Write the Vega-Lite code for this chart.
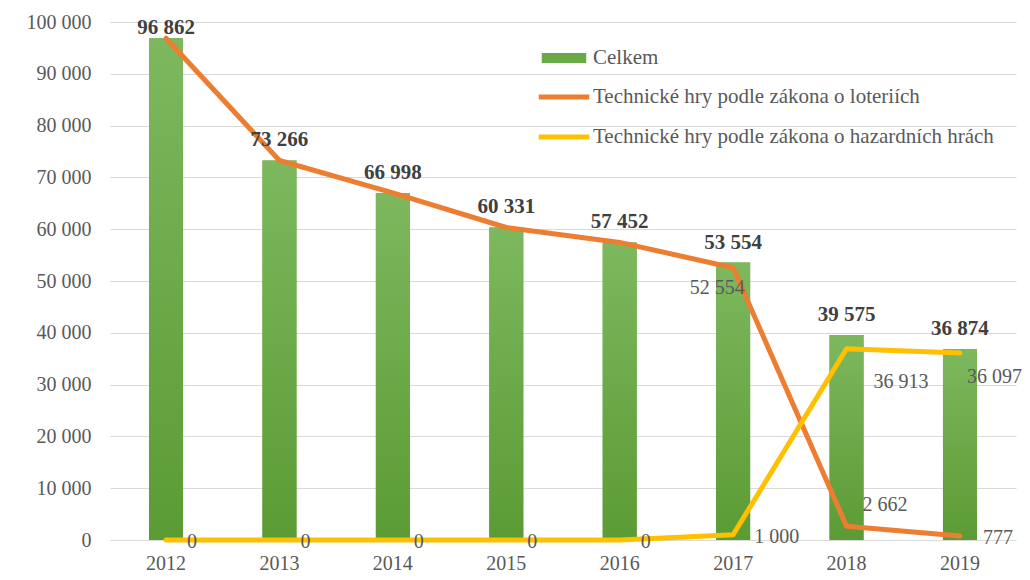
{
  "$schema": "https://vega.github.io/schema/vega-lite/v6.json",
  "width": 906,
  "height": 518,
  "autosize": "none",
  "padding": {"left": 110, "top": 22, "right": 14, "bottom": 40},
  "background": "white",
  "config": {
    "locale": {"number": {"decimal": ",", "thousands": " ", "grouping": [3], "currency": ["", ""]}},
    "view": {"stroke": null},
    "font": "Liberation Serif",
    "axis": {"labelFont": "Liberation Serif", "labelColor": "#595959", "labelFontSize": 20, "domain": false, "ticks": false, "title": null},
    "legend": {"labelFont": "Liberation Serif", "labelFontSize": 21, "labelColor": "#595959", "padding": 0, "title": null, "labelLimit": 800}
  },
  "datasets": {
    "totals": [
      {"year": "2012", "total": 96862},
      {"year": "2013", "total": 73266},
      {"year": "2014", "total": 66998},
      {"year": "2015", "total": 60331},
      {"year": "2016", "total": 57452},
      {"year": "2017", "total": 53554},
      {"year": "2018", "total": 39575},
      {"year": "2019", "total": 36874}
    ],
    "lines": [
      {"year": "2012", "series": "Technické hry podle zákona o loteriích", "value": 96862},
      {"year": "2013", "series": "Technické hry podle zákona o loteriích", "value": 73266},
      {"year": "2014", "series": "Technické hry podle zákona o loteriích", "value": 66998},
      {"year": "2015", "series": "Technické hry podle zákona o loteriích", "value": 60331},
      {"year": "2016", "series": "Technické hry podle zákona o loteriích", "value": 57452},
      {"year": "2017", "series": "Technické hry podle zákona o loteriích", "value": 52554},
      {"year": "2018", "series": "Technické hry podle zákona o loteriích", "value": 2662},
      {"year": "2019", "series": "Technické hry podle zákona o loteriích", "value": 777},
      {"year": "2012", "series": "Technické hry podle zákona o hazardních hrách", "value": 0},
      {"year": "2013", "series": "Technické hry podle zákona o hazardních hrách", "value": 0},
      {"year": "2014", "series": "Technické hry podle zákona o hazardních hrách", "value": 0},
      {"year": "2015", "series": "Technické hry podle zákona o hazardních hrách", "value": 0},
      {"year": "2016", "series": "Technické hry podle zákona o hazardních hrách", "value": 0},
      {"year": "2017", "series": "Technické hry podle zákona o hazardních hrách", "value": 1000},
      {"year": "2018", "series": "Technické hry podle zákona o hazardních hrách", "value": 36913},
      {"year": "2019", "series": "Technické hry podle zákona o hazardních hrách", "value": 36097}
    ]
  },
  "encoding": {
    "x": {"field": "year", "type": "nominal", "scale": {"paddingInner": 0.7, "paddingOuter": 0.344},
          "axis": {"labelAngle": 0, "labelPadding": 13, "grid": false}},
    "y": {"type": "quantitative", "scale": {"domain": [0, 100000], "nice": false},
          "axis": {"tickCount": 10, "format": ",d", "labelPadding": 19, "grid": true, "gridColor": "#d9d9d9", "gridWidth": 1}}
  },
  "layer": [
    {
      "data": {"name": "totals"},
      "mark": {"type": "bar"},
      "encoding": {
        "y": {"field": "total", "type": "quantitative"},
        "fill": {"datum": "Celkem", "scale": {"domain": ["Celkem"], "range": ["#6aa945"]},
                 "legend": {"orient": "none", "legendX": 431, "legendY": 25, "symbolType": "M-1,-0.22H1V0.22H-1Z", "symbolSize": 1980, "labelOffset": 6, "clipHeight": 22}}
      }
    },
    {
      "data": {"name": "totals"},
      "mark": {"type": "bar", "color": {"gradient": "linear", "x1": 0, "y1": 0, "x2": 0, "y2": 1,
               "stops": [{"offset": 0, "color": "#7db85e"}, {"offset": 1, "color": "#5b9b34"}]}},
      "encoding": {"y": {"field": "total", "type": "quantitative"}}
    },
    {
      "data": {"name": "lines"},
      "mark": {"type": "line", "strokeWidth": 5, "strokeCap": "round", "strokeJoin": "round"},
      "encoding": {
        "y": {"field": "value", "type": "quantitative"},
        "stroke": {"field": "series", "type": "nominal",
                   "scale": {"domain": ["Technické hry podle zákona o loteriích", "Technické hry podle zákona o hazardních hrách"], "range": ["#ed7d31", "#ffc000"]},
                   "legend": {"orient": "none", "legendX": 426, "legendY": 64, "symbolType": "stroke", "symbolSize": 2550, "symbolStrokeWidth": 5, "labelOffset": 1, "clipHeight": 22, "rowPadding": 18}}
      }
    },
    {
      "data": {"name": "totals"},
      "transform": [{"filter": "datum.year != '2012'"}],
      "mark": {"type": "text", "fontWeight": "bold", "fontSize": 21, "color": "#404040", "dy": -20, "baseline": "middle"},
      "encoding": {"y": {"field": "total", "type": "quantitative"}, "text": {"field": "total", "format": ",d"}}
    },
    {
      "data": {"name": "totals"},
      "transform": [{"filter": "datum.year == '2012'"}],
      "mark": {"type": "text", "fontWeight": "bold", "fontSize": 21, "color": "#404040", "dy": -10, "baseline": "middle"},
      "encoding": {"y": {"field": "total", "type": "quantitative"}, "text": {"field": "total", "format": ",d"}}
    },
    {
      "data": {"name": "lines"},
      "transform": [{"filter": "datum.series == 'Technické hry podle zákona o hazardních hrách' && toNumber(datum.year) <= 2017"}],
      "mark": {"type": "text", "fontSize": 20, "color": "#595959", "align": "left", "dx": 21, "dy": 2, "baseline": "middle"},
      "encoding": {"y": {"field": "value", "type": "quantitative"}, "text": {"field": "value", "format": ",d"}}
    },
    {
      "data": {"name": "lines"},
      "transform": [{"filter": "datum.series == 'Technické hry podle zákona o hazardních hrách' && datum.year == '2018'"}],
      "mark": {"type": "text", "fontSize": 20, "color": "#595959", "align": "left", "dx": 27, "dy": 33, "baseline": "middle"},
      "encoding": {"y": {"field": "value", "type": "quantitative"}, "text": {"field": "value", "format": ",d"}}
    },
    {
      "data": {"name": "lines"},
      "transform": [{"filter": "datum.series == 'Technické hry podle zákona o hazardních hrách' && datum.year == '2019'"}],
      "mark": {"type": "text", "fontSize": 20, "color": "#595959", "align": "left", "dx": 7, "dy": 24, "baseline": "middle"},
      "encoding": {"y": {"field": "value", "type": "quantitative"}, "text": {"field": "value", "format": ",d"}}
    },
    {
      "data": {"name": "lines"},
      "transform": [{"filter": "datum.series == 'Technické hry podle zákona o loteriích' && datum.year == '2017'"}],
      "mark": {"type": "text", "fontSize": 20, "color": "#595959", "align": "center", "dx": -16, "dy": 20, "baseline": "middle"},
      "encoding": {"y": {"field": "value", "type": "quantitative"}, "text": {"field": "value", "format": ",d"}}
    },
    {
      "data": {"name": "lines"},
      "transform": [{"filter": "datum.series == 'Technické hry podle zákona o loteriích' && datum.year == '2018'"}],
      "mark": {"type": "text", "fontSize": 20, "color": "#595959", "align": "left", "dx": 16, "dy": -21, "baseline": "middle"},
      "encoding": {"y": {"field": "value", "type": "quantitative"}, "text": {"field": "value", "format": ",d"}}
    },
    {
      "data": {"name": "lines"},
      "transform": [{"filter": "datum.series == 'Technické hry podle zákona o loteriích' && datum.year == '2019'"}],
      "mark": {"type": "text", "fontSize": 20, "color": "#595959", "align": "left", "dx": 23, "dy": 2, "baseline": "middle"},
      "encoding": {"y": {"field": "value", "type": "quantitative"}, "text": {"field": "value", "format": ",d"}}
    }
  ]
}
